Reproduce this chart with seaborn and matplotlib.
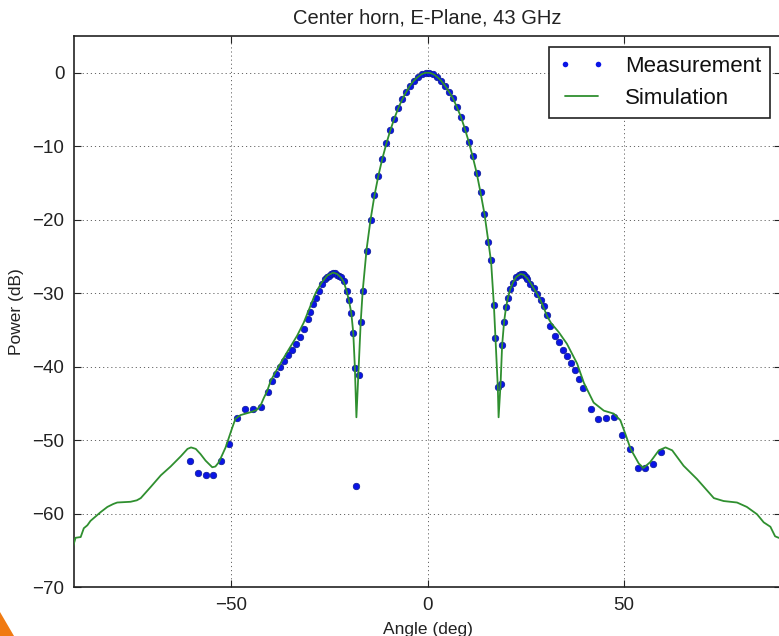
import matplotlib
matplotlib.use("Agg")
import matplotlib.pyplot as plt
import seaborn as sns
import pandas as pd
from matplotlib.lines import Line2D
from matplotlib.patches import Polygon

# ---------------- data ----------------
sim_angle = [-90.2, -89.6, -88.3, -87.5, -86.6, -85.8, -84.5, -83.2, -81.5, -80.0,
             -79.0, -75.6, -74.0, -73.0, -70.5, -67.9, -65.4, -62.8, -61.1, -60.2,
             -59.0, -57.8, -56.5, -54.8, -54.0, -53.1, -51.4, -49.7, -48.9, -47.6,
             -45.0, -43.5, -42.5, -41.7, -40.8, -39.9, -37.8, -35.7, -33.2, -31.5,
             -30.0, -28.5, -27.0, -25.5, -24.0, -23.0, -22.0, -21.3, -20.6, -20.0,
             -19.4, -18.9, -18.5, -18.1, -17.6, -17.0, -16.5, -15.5, -14.5, -13.5,
             -12.5, -11.5, -10.5, -9.5, -8.5, -7.5, -6.5, -5.5, -4.5, -3.5,
             -2.5, -1.5, -0.5, 0.5, 1.5, 2.5, 3.5, 4.5, 5.5, 6.5,
             7.5, 8.5, 9.5, 10.5, 11.5, 12.5, 13.5, 14.5, 15.5, 16.2,
             16.9, 17.3, 17.9, 18.1, 18.6, 19.0, 19.5, 20.0, 20.5, 21.1,
             21.8, 22.6, 23.7, 24.5, 25.4, 26.2, 27.0, 27.9, 28.8, 29.6,
             30.5, 31.5, 33.4, 35.5, 38.1, 39.8, 42.3, 44.9, 47.4, 49.1,
             50.4, 51.7, 53.8, 55.0, 56.7, 58.9, 60.6, 62.3, 65.2, 68.6,
             72.9, 75.4, 78.8, 81.3, 83.9, 85.6, 87.3, 88.5, 89.4, 90.2]
sim_power = [-64.4, -63.3, -63.2, -62.0, -61.6, -61.0, -60.4, -59.8, -59.1, -58.7,
             -58.5, -58.4, -58.2, -57.9, -56.4, -54.8, -53.6, -52.2, -51.2, -51.0,
             -51.2, -51.9, -52.8, -53.7, -53.6, -53.0, -51.0, -48.3, -47.1, -46.6,
             -46.2, -45.9, -45.3, -44.3, -43.3, -41.9, -39.9, -38.0, -35.8, -34.0,
             -32.0, -30.0, -28.6, -27.6, -27.2, -27.4, -27.9, -28.5, -29.7, -31.0,
             -32.7, -35.4, -40.0, -46.9, -41.0, -33.9, -29.7, -24.0, -20.0, -16.7,
             -14.0, -11.7, -9.7, -7.9, -6.3, -4.9, -3.7, -2.7, -1.8, -1.1,
             -0.6, -0.2, 0.0, 0.0, -0.2, -0.6, -1.1, -1.8, -2.6, -3.5,
             -4.7, -6.0, -7.6, -9.4, -11.4, -13.6, -16.3, -19.2, -23.0, -25.8,
             -31.6, -36.1, -42.8, -46.9, -42.4, -37.1, -33.9, -31.9, -30.6, -29.4,
             -28.5, -27.8, -27.4, -27.5, -28.0, -28.6, -29.3, -30.1, -31.0, -32.0,
             -33.2, -34.1, -35.3, -36.9, -39.6, -42.2, -44.9, -46.0, -46.4, -47.3,
             -49.2, -51.2, -53.2, -53.8, -53.0, -51.4, -51.0, -51.4, -53.5, -55.3,
             -57.9, -58.3, -58.5, -59.1, -60.1, -61.2, -61.8, -63.1, -63.3, -63.4]

meas_angle = [-60.5, -58.5, -56.5, -54.5, -52.5, -50.5, -48.5, -46.5, -44.5, -42.5,
              -40.5, -39.5, -38.5, -37.5, -36.5, -35.5, -34.5, -33.5, -32.5, -31.5,
              -30.5, -29.8, -29.1, -28.5, -27.7, -26.8, -26.0, -25.5, -25.1, -24.5,
              -24.0, -23.5, -23.0, -22.5, -22.1, -21.3, -20.6, -20.0, -19.4, -18.9,
              -18.5, -18.1, -17.4, -16.9, -16.5, -15.5, -14.5, -13.5, -12.5, -11.5,
              -10.5, -9.5, -8.5, -7.5, -6.5, -5.5, -4.5, -3.5, -2.5, -1.5,
              -0.5, 0.5, 1.5, 2.5, 3.5, 4.5, 5.5, 6.5, 7.5, 8.5,
              9.5, 10.5, 11.5, 12.5, 13.5, 14.5, 15.5, 16.2, 16.9, 17.3,
              17.9, 18.6, 19.0, 19.5, 20.0, 20.5, 21.1, 21.8, 22.6, 23.2,
              23.7, 24.2, 24.5, 25.0, 25.4, 26.2, 27.0, 27.9, 28.8, 29.6,
              30.5, 31.3, 32.4, 33.4, 34.4, 35.5, 36.6, 37.5, 38.5, 39.5,
              41.5, 43.5, 45.5, 47.5, 49.5, 51.5, 53.5, 55.5, 57.5, 59.5]
meas_power = [-52.8, -54.5, -54.7, -54.8, -52.8, -50.5, -47.0, -45.8, -45.8, -45.5,
              -43.4, -42.0, -41.0, -40.0, -39.2, -38.4, -37.7, -36.9, -36.0, -34.9,
              -33.5, -32.6, -31.5, -30.6, -29.7, -28.8, -28.1, -27.8, -27.6, -27.4,
              -27.3, -27.3, -27.5, -27.6, -27.8, -28.4, -29.7, -30.9, -32.7, -35.4,
              -40.2, -56.3, -41.1, -33.9, -29.7, -24.2, -20.0, -16.7, -14.0, -11.7,
              -9.6, -7.8, -6.3, -4.8, -3.6, -2.6, -1.8, -1.1, -0.6, -0.2,
              0.0, 0.0, -0.2, -0.6, -1.1, -1.8, -2.6, -3.5, -4.7, -6.0,
              -7.6, -9.4, -11.4, -13.6, -16.3, -19.2, -23.1, -25.5, -31.6, -36.1,
              -42.8, -42.4, -37.1, -33.9, -31.9, -30.6, -29.4, -28.6, -27.8, -27.5,
              -27.4, -27.4, -27.5, -27.8, -28.1, -28.7, -29.3, -30.1, -30.9, -31.8,
              -33.0, -34.5, -35.9, -36.7, -37.7, -38.6, -39.5, -40.5, -41.7, -42.9,
              -45.8, -47.1, -47.0, -46.8, -49.3, -51.2, -53.8, -53.8, -53.2, -51.6]

x_ticks = [-50, 0, 50]
y_ticks = [-70, -60, -50, -40, -30, -20, -10, 0]

sim_df = pd.DataFrame({"Angle": sim_angle, "Power": sim_power})
meas_df = pd.DataFrame({"Angle": meas_angle, "Power": meas_power})

# ---------------- style ----------------
sns.set_theme(style="white")
plt.rcParams["font.family"] = ["Liberation Sans", "DejaVu Sans"]

fig = plt.figure(figsize=(7.79, 6.36), dpi=100)
ax = fig.add_axes([74 / 779, 1 - 587 / 636, (781 - 74) / 779, (587 - 36) / 636])
ax.set_facecolor("white")

meas_color = "#0a14e6"
sim_color = "#2f8f2f"

sns.scatterplot(data=meas_df, x="Angle", y="Power", ax=ax, s=22,
                color=meas_color, edgecolor="#0a1a90", linewidth=0.5,
                zorder=3, legend=False)
sns.lineplot(data=sim_df, x="Angle", y="Power", ax=ax, sort=False,
             estimator=None, color=sim_color, linewidth=1.3, zorder=4,
             legend=False)

ax.set_xlim(-90, 90)
ax.set_ylim(-70, 5)
ax.set_xticks(x_ticks)
ax.set_yticks(y_ticks)

ax.grid(True, color="0.4", linestyle=(0, (1.2, 3.0)), linewidth=0.7)
for s in ax.spines.values():
    s.set_color("#222222")
    s.set_linewidth(1.2)
    s.set_visible(True)

ax.tick_params(direction="in", length=5, width=0.8, colors="#222222",
               labelsize=13.5, labelcolor="#222222", top=True, right=True,
               bottom=True, left=True, pad=7)

ax.set_xlabel("Angle (deg)", fontsize=12.5, color="#222222", labelpad=6)
ax.set_ylabel("Power (dB)", fontsize=12.5, color="#222222", labelpad=6)
ax.set_title("Center horn, E-Plane, 43 GHz", fontsize=14.5, color="#222222",
             pad=9)

handles = [
    Line2D([0], [0], marker="o", linestyle="none", color=meas_color,
           markersize=4, markeredgewidth=0),
    Line2D([0], [0], color=sim_color, linewidth=1.3),
]
leg = ax.legend(handles, ["Measurement", "Simulation"], loc="upper right",
                fontsize=16, numpoints=2, frameon=True, fancybox=False,
                edgecolor="#222222", framealpha=1, handlelength=2.1,
                handletextpad=0.9, borderpad=0.4, labelspacing=0.5,
                borderaxespad=0.5)
leg.get_frame().set_linewidth(1.2)
for t in leg.get_texts():
    t.set_color("#111111")

# orange corner decoration in the reference
fig.patches.append(Polygon([(0, 0), (14 / 779, 0), (0, 24 / 636)],
                           closed=True, transform=fig.transFigure,
                           facecolor="#f07a12", edgecolor="none", zorder=10))

fig.savefig("out.png", dpi=100, facecolor="white")
